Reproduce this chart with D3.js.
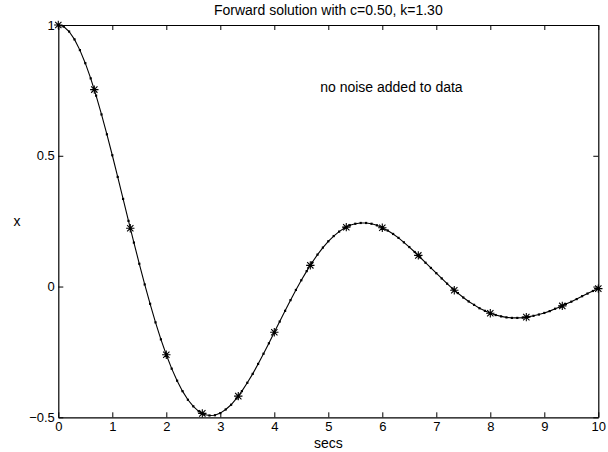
<!DOCTYPE html>
<html>
<head>
<meta charset="utf-8">
<script src="https://cdn.jsdelivr.net/npm/d3@7"></script>
<style>
  html, body { margin: 0; padding: 0; background: #fff; }
  svg { display: block; }
  text { font-family: "Liberation Sans", Arial, Helvetica, sans-serif; fill: #000; }
</style>
</head>
<body>
<svg id="chart" width="608" height="452"></svg>
<script>
// ---- data ----
const titleText = "Forward solution with c=0.50, k=1.30";
const xLabel = "secs";
const yLabel = "x";
const noteText = "no noise added to data";

const xTicks = [0, 1, 2, 3, 4, 5, 6, 7, 8, 9, 10];
const xTickLabels = ["0", "1", "2", "3", "4", "5", "6", "7", "8", "9", "10"];
const yTicks = [-0.5, 0, 0.5, 1];
const yTickLabels = ["\u22120.5", "0", "0.5", "1"];

// forward solution, sampled every 0.1 s
const solTime = [
  0.0, 0.1, 0.2, 0.3, 0.4, 0.5, 0.6, 0.7, 0.8, 0.9,
  1.0, 1.1, 1.2, 1.3, 1.4, 1.5, 1.6, 1.7, 1.8, 1.9,
  2.0, 2.1, 2.2, 2.3, 2.4, 2.5, 2.6, 2.7, 2.8, 2.9,
  3.0, 3.1, 3.2, 3.3, 3.4, 3.5, 3.6, 3.7, 3.8, 3.9,
  4.0, 4.1, 4.2, 4.3, 4.4, 4.5, 4.6, 4.7, 4.8, 4.9,
  5.0, 5.1, 5.2, 5.3, 5.4, 5.5, 5.6, 5.7, 5.8, 5.9,
  6.0, 6.1, 6.2, 6.3, 6.4, 6.5, 6.6, 6.7, 6.8, 6.9,
  7.0, 7.1, 7.2, 7.3, 7.4, 7.5, 7.6, 7.7, 7.8, 7.9,
  8.0, 8.1, 8.2, 8.3, 8.4, 8.5, 8.6, 8.7, 8.8, 8.9,
  9.0, 9.1, 9.2, 9.3, 9.4, 9.5, 9.6, 9.7, 9.8, 9.9,
  10.0
];
const solValue = [
  1.000, 0.994, 0.975, 0.945, 0.904, 0.854, 0.796, 0.730, 0.658, 0.582,
  0.502, 0.419, 0.335, 0.251, 0.168, 0.087, 0.008, -0.066, -0.137, -0.202,
  -0.261, -0.314, -0.360, -0.400, -0.433, -0.458, -0.477, -0.489, -0.493, -0.492,
  -0.484, -0.470, -0.452, -0.428, -0.400, -0.368, -0.334, -0.296, -0.257, -0.217,
  -0.175, -0.134, -0.093, -0.052, -0.013, 0.024, 0.059, 0.092, 0.122, 0.149,
  0.173, 0.193, 0.210, 0.224, 0.234, 0.240, 0.243, 0.243, 0.240, 0.234,
  0.225, 0.214, 0.201, 0.186, 0.169, 0.151, 0.132, 0.112, 0.091, 0.071,
  0.051, 0.031, 0.011, -0.008, -0.025, -0.042, -0.057, -0.070, -0.083, -0.093,
  -0.102, -0.109, -0.114, -0.118, -0.120, -0.120, -0.119, -0.116, -0.112, -0.107,
  -0.101, -0.094, -0.085, -0.077, -0.067, -0.058, -0.048, -0.037, -0.027, -0.017,
  -0.008
];

// observed data (asterisks)
const dataTime = [0, 0.667, 1.333, 2, 2.667, 3.333, 4, 4.667, 5.333, 6, 6.667, 7.333, 8, 8.667, 9.333, 10];
const dataValue = [1.000, 0.753, 0.223, -0.261, -0.485, -0.419, -0.175, 0.081, 0.227, 0.225, 0.119, -0.014, -0.102, -0.117, -0.074, -0.008];

// note position (data coordinates)
const notePos = [4.85, 0.745];

// ---- layout ----
const svg = d3.select("#chart");
const mLeft = 58.3, mRight = 598.3, mTop = 25, mBottom = 417.3;
const fontSize = 14;
const tickFont = 13;

const x = d3.scaleLinear().domain([0, 10]).range([mLeft, mRight]);
const y = d3.scaleLinear().domain([-0.5, 1]).range([mBottom, mTop]);

const solution = solTime.map((t, i) => ({ t, v: solValue[i] }));
const observed = dataTime.map((t, i) => ({ t, v: dataValue[i] }));

// axes (MATLAB box style: ticks inside on all four sides)
function styleAxis(g) {
  g.selectAll("path.domain").attr("stroke", "#000").attr("stroke-width", 1.2);
  g.selectAll(".tick line").attr("stroke", "#000").attr("stroke-width", 1);
  g.selectAll("text").style("font-size", tickFont + "px")
    .style("font-family", '"Liberation Sans", Arial, Helvetica, sans-serif').attr("fill", "#000");
}

svg.append("g")
  .attr("transform", `translate(0,${mBottom})`)
  .call(d3.axisBottom(x).tickValues(xTicks).tickSizeInner(-5).tickSizeOuter(0).tickPadding(4.5)
    .tickFormat((d, i) => xTickLabels[i]))
  .call(styleAxis);

svg.append("g")
  .attr("transform", `translate(0,${mTop})`)
  .call(d3.axisTop(x).tickValues(xTicks).tickSizeInner(-5).tickSizeOuter(0).tickFormat(""))
  .call(styleAxis);

svg.append("g")
  .attr("transform", `translate(${mLeft},0)`)
  .call(d3.axisLeft(y).tickValues(yTicks).tickSizeInner(-5).tickSizeOuter(0).tickPadding(3.5)
    .tickFormat((d, i) => yTickLabels[i]))
  .call(styleAxis);

svg.append("g")
  .attr("transform", `translate(${mRight},0)`)
  .call(d3.axisRight(y).tickValues(yTicks).tickSizeInner(-5).tickSizeOuter(0).tickFormat(""))
  .call(styleAxis);

// solution line
const line = d3.line().x(d => x(d.t)).y(d => y(d.v));
svg.append("path")
  .datum(solution)
  .attr("fill", "none")
  .attr("stroke", "#000")
  .attr("stroke-width", 1.1)
  .attr("d", line);

// small dots at each solution sample
svg.append("g").selectAll("rect")
  .data(solution)
  .join("rect")
  .attr("x", d => x(d.t) - 1.1)
  .attr("y", d => y(d.v) - 1.1)
  .attr("width", 2.2)
  .attr("height", 2.2)
  .attr("fill", "#000");

// asterisks at data points
const s = 4.2;
const star = `M${-s},0L${s},0M0,${-s}L0,${s}M${-s * 0.75},${-s * 0.75}L${s * 0.75},${s * 0.75}M${-s * 0.75},${s * 0.75}L${s * 0.75},${-s * 0.75}`;
svg.append("g").selectAll("path")
  .data(observed)
  .join("path")
  .attr("transform", d => `translate(${x(d.t)},${y(d.v)})`)
  .attr("d", star)
  .attr("fill", "none")
  .attr("stroke", "#000")
  .attr("stroke-width", 1.1);

// texts
svg.append("text")
  .attr("x", (mLeft + mRight) / 2)
  .attr("y", 14.5)
  .attr("text-anchor", "middle")
  .style("font-size", fontSize + "px")
  .text(titleText);

svg.append("text")
  .attr("x", (mLeft + mRight) / 2)
  .attr("y", 447.5)
  .attr("text-anchor", "middle")
  .style("font-size", fontSize + "px")
  .text(xLabel);

svg.append("text")
  .attr("x", 17)
  .attr("y", (mTop + mBottom) / 2)
  .attr("text-anchor", "middle")
  .attr("dominant-baseline", "central")
  .style("font-size", fontSize + "px")
  .text(yLabel);

svg.append("text")
  .attr("x", x(notePos[0]))
  .attr("y", y(notePos[1]))
  .style("font-size", fontSize + "px")
  .text(noteText);
</script>
</body>
</html>
